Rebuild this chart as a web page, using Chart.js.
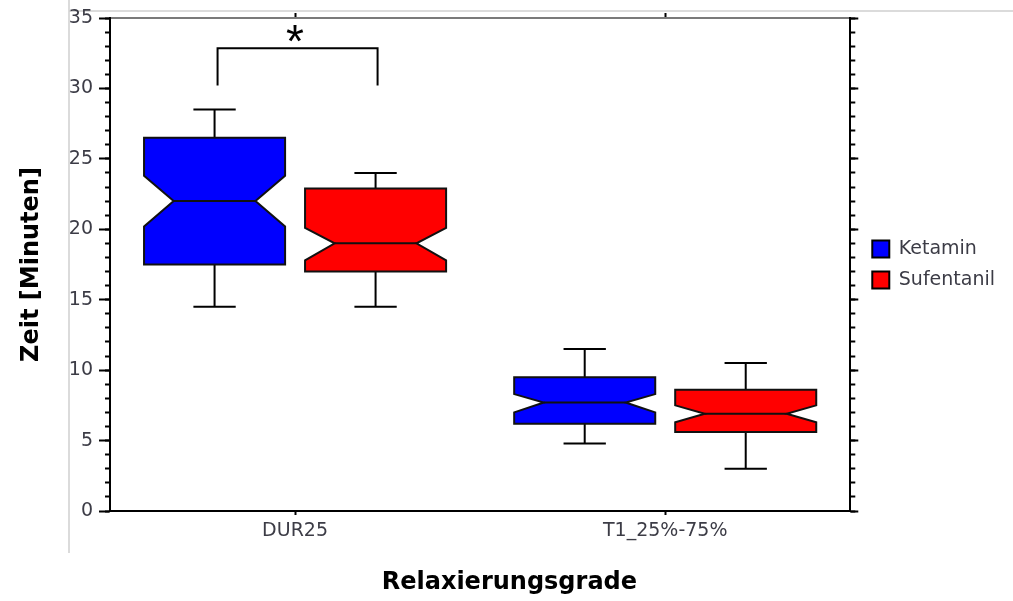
<!DOCTYPE html>
<html><head><meta charset="utf-8">
<script src="https://cdn.jsdelivr.net/npm/chart.js@4.4.1/dist/chart.umd.min.js"></script>
<style>html,body{margin:0;padding:0;background:#fff;overflow:hidden}</style>
</head><body>
<canvas id="c" width="1013" height="601"></canvas>
<script>
// ---------- data ----------
const categories = ['DUR25', 'T1_25%-75%'];
const seriesNames = ['Ketamin', 'Sufentanil'];
const ketaminMin     = [14.5, 4.8];
const ketaminQ1      = [17.5, 6.2];
const ketaminMedian  = [22.0, 7.7];
const ketaminQ3      = [26.5, 9.5];
const ketaminMax     = [28.5, 11.5];
const ketaminNotchLo = [20.2, 7.0];
const ketaminNotchHi = [23.8, 8.3];
const sufentanilMin     = [14.5, 3.0];
const sufentanilQ1      = [17.0, 5.6];
const sufentanilMedian  = [19.0, 6.9];
const sufentanilQ3      = [22.9, 8.6];
const sufentanilMax     = [24.0, 10.5];
const sufentanilNotchLo = [17.8, 6.3];
const sufentanilNotchHi = [20.1, 7.5];
const yMin = 0, yMax = 35, yMajorStep = 5, yMinorStep = 1;
// significance bracket between Ketamin and Sufentanil in DUR25
const sigCategory = 0;
const sigBracketTop = 32.85;
const sigBracketLeg = 30.2;
const sigStarValue = 33.9;
const sigLabel = '*';
const xTitle = 'Relaxierungsgrade';
const yTitle = 'Zeit [Minuten]';

// ---------- styles ----------
const seriesColors = ['#0000ff', '#ff0000'];
const textColor = '#3c3c46';
const notchInsetFrac = 0.21;
const capFrac = 0.3;

const stats = [
  {min: ketaminMin, q1: ketaminQ1, med: ketaminMedian, q3: ketaminQ3, max: ketaminMax, nlo: ketaminNotchLo, nhi: ketaminNotchHi},
  {min: sufentanilMin, q1: sufentanilQ1, med: sufentanilMedian, q3: sufentanilQ3, max: sufentanilMax, nlo: sufentanilNotchLo, nhi: sufentanilNotchHi}
];

const frameLines = {
  id: 'frameLines',
  beforeDraw(chart) {
    const ctx = chart.ctx;
    ctx.save();
    ctx.strokeStyle = '#cfcfcf';
    ctx.lineWidth = 1.5;
    ctx.beginPath();
    ctx.moveTo(69, 0); ctx.lineTo(69, 553);
    ctx.moveTo(69, 11); ctx.lineTo(1013, 11);
    ctx.stroke();
    ctx.restore();
  }
};

const notchedBoxes = {
  id: 'notchedBoxes',
  afterDatasetsDraw(chart) {
    const ctx = chart.ctx;
    const ys = chart.scales.y;
    const py = v => ys.getPixelForValue(v);
    ctx.save();
    ctx.lineJoin = 'miter';
    stats.forEach((s, di) => {
      const meta = chart.getDatasetMeta(di);
      meta.data.forEach((bar, i) => {
        const cx = bar.x, w = bar.width;
        const l = cx - w / 2, r = cx + w / 2;
        const inset = w * notchInsetFrac;
        const cap = w * capFrac;
        // whiskers
        ctx.strokeStyle = '#000';
        ctx.lineWidth = 2;
        ctx.beginPath();
        ctx.moveTo(cx, py(s.q3[i])); ctx.lineTo(cx, py(s.max[i]));
        ctx.moveTo(cx - cap / 2, py(s.max[i])); ctx.lineTo(cx + cap / 2, py(s.max[i]));
        ctx.moveTo(cx, py(s.q1[i])); ctx.lineTo(cx, py(s.min[i]));
        ctx.moveTo(cx - cap / 2, py(s.min[i])); ctx.lineTo(cx + cap / 2, py(s.min[i]));
        ctx.stroke();
        // notched box
        ctx.beginPath();
        ctx.moveTo(l, py(s.q3[i]));
        ctx.lineTo(r, py(s.q3[i]));
        ctx.lineTo(r, py(s.nhi[i]));
        ctx.lineTo(r - inset, py(s.med[i]));
        ctx.lineTo(r, py(s.nlo[i]));
        ctx.lineTo(r, py(s.q1[i]));
        ctx.lineTo(l, py(s.q1[i]));
        ctx.lineTo(l, py(s.nlo[i]));
        ctx.lineTo(l + inset, py(s.med[i]));
        ctx.lineTo(l, py(s.nhi[i]));
        ctx.closePath();
        ctx.fillStyle = seriesColors[di];
        ctx.fill();
        ctx.lineWidth = 2;
        ctx.strokeStyle = '#111';
        ctx.stroke();
        // median
        ctx.beginPath();
        ctx.moveTo(l + inset, py(s.med[i]));
        ctx.lineTo(r - inset, py(s.med[i]));
        ctx.stroke();
      });
    });
    // significance bracket
    const a = chart.getDatasetMeta(0).data[sigCategory];
    const b = chart.getDatasetMeta(1).data[sigCategory];
    ctx.strokeStyle = '#000';
    ctx.lineWidth = 2;
    ctx.beginPath();
    ctx.moveTo(a.x + 3, py(sigBracketLeg));
    ctx.lineTo(a.x + 3, py(sigBracketTop));
    ctx.lineTo(b.x + 2, py(sigBracketTop));
    ctx.lineTo(b.x + 2, py(sigBracketLeg));
    ctx.stroke();
    const cxs = chart.scales.x.getPixelForValue(sigCategory);
    ctx.font = '46px "Liberation Sans", Arial, sans-serif';
    ctx.fillStyle = '#000';
    ctx.textAlign = 'center';
    ctx.textBaseline = 'alphabetic';
    const m = ctx.measureText(sigLabel);
    const mid = (m.actualBoundingBoxAscent - m.actualBoundingBoxDescent) / 2;
    ctx.fillText(sigLabel, cxs, py(sigStarValue) + mid);
    ctx.restore();
  }
};

const tickFont = {family: 'DejaVu Sans', size: 19};
const titleFont = {family: 'DejaVu Sans', size: 24, weight: 'bold'};

const yCommon = {min: yMin, max: yMax, type: 'linear'};

new Chart(document.getElementById('c'), {
  type: 'bar',
  data: {
    labels: categories,
    datasets: seriesNames.map((n, i) => ({
      label: n,
      data: stats[i].q1.map((q, j) => [q, stats[i].q3[j]]),
      backgroundColor: 'rgba(0,0,0,0)',
      borderWidth: 0,
      categoryPercentage: 0.87,
      barPercentage: 0.876,
      xAxisID: 'x', yAxisID: 'y'
    }))
  },
  options: {
    responsive: false,
    animation: false,
    devicePixelRatio: 1,
    layout: {padding: {left: 0, top: 13, right: 8, bottom: 0}},
    plugins: {
      tooltip: {enabled: false},
      legend: {
        position: 'right',
        fullSize: false,
        maxWidth: 300,
        labels: {
          boxWidth: 17, boxHeight: 17, padding: 12,
          color: textColor, font: tickFont,
          generateLabels: () => seriesNames.map((n, i) => ({
            text: n, fillStyle: seriesColors[i], strokeStyle: '#000', lineWidth: 2,
            fontColor: textColor, hidden: false, datasetIndex: i
          }))
        }
      }
    },
    scales: {
      x: {
        position: 'bottom', offset: true,
        grid: {offset: false, drawOnChartArea: false, tickLength: 4, tickColor: '#000', tickWidth: 2},
        border: {color: '#000', width: 2},
        ticks: {font: tickFont, color: textColor, padding: 5, maxRotation: 0},
        title: {display: true, text: '\u00a0'.repeat(7) + xTitle, font: titleFont, color: '#000', padding: {top: 0, bottom: 4}},
        afterFit: s => { s.height = 90; }
      },
      x2: {
        type: 'category', position: 'top', offset: true, labels: categories,
        grid: {offset: false, drawOnChartArea: false, tickLength: 5, tickColor: '#000', tickWidth: 2},
        border: {color: '#7a7a7a', width: 2},
        ticks: {display: false},
        afterFit: s => { s.height = 5; }
      },
      y: Object.assign({}, yCommon, {
        position: 'left', weight: 1,
        ticks: {stepSize: yMajorStep, font: tickFont, color: textColor, padding: 6},
        grid: {drawOnChartArea: false, tickLength: 11, tickColor: '#000', tickWidth: 2},
        border: {color: '#000', width: 2},
        title: {display: true, text: yTitle, font: titleFont, color: '#000', padding: {top: 17, bottom: 0}},
        afterFit: s => { s.width = 110; }
      }),
      yMinorL: Object.assign({}, yCommon, {
        position: 'left', weight: 0,
        ticks: {stepSize: yMinorStep, display: false},
        grid: {drawOnChartArea: false, tickLength: 5, tickColor: '#000', tickWidth: 2},
        border: {display: false},
        afterFit: s => { s.width = 0; }
      }),
      yR: Object.assign({}, yCommon, {
        position: 'right', weight: 1,
        ticks: {stepSize: yMajorStep, display: false},
        grid: {drawOnChartArea: false, tickLength: 8, tickColor: '#000', tickWidth: 2},
        border: {color: '#000', width: 2},
        afterFit: s => { s.width = 10; }
      }),
      yMinorR: Object.assign({}, yCommon, {
        position: 'right', weight: 0,
        ticks: {stepSize: yMinorStep, display: false},
        grid: {drawOnChartArea: false, tickLength: 5, tickColor: '#000', tickWidth: 2},
        border: {display: false},
        afterFit: s => { s.width = 0; }
      })
    }
  },
  plugins: [frameLines, notchedBoxes]
});
</script>
</body></html>
